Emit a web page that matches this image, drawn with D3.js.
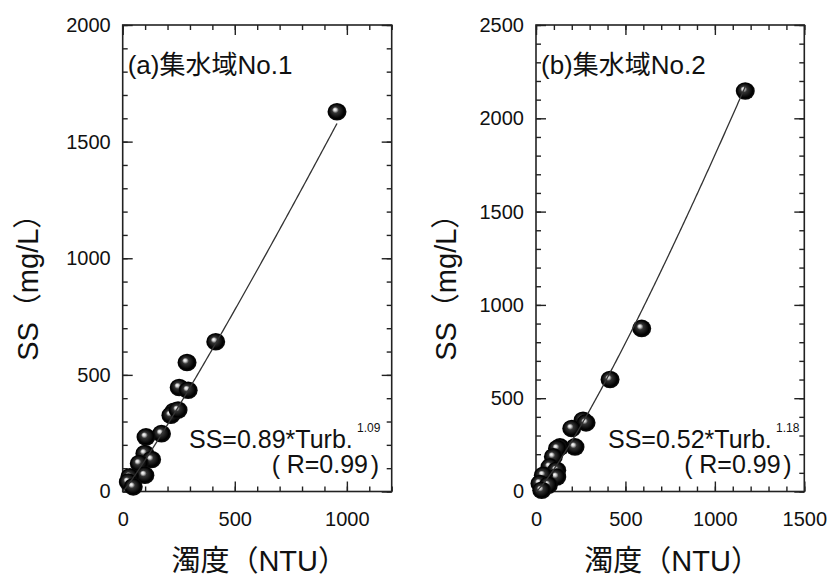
<!DOCTYPE html>
<html>
<head>
<meta charset="utf-8">
<script src="https://d3js.org/d3.v7.min.js"></script>
<style>
  body { margin: 0; background: #fff; }
  text { font-family: "Liberation Sans", Arial, "Noto Sans CJK JP", sans-serif; fill: #111; }
</style>
</head>
<body>
<svg id="chart" width="833" height="578"></svg>
<script>
// panel (a) catchment No.1
const turbA = [956, 415, 287, 252, 292, 229, 215, 247, 173, 104, 99, 129, 74, 99, 32, 25, 47];
const ssA   = [1628, 642, 553, 446, 434, 344, 327, 349, 248, 234, 163, 137, 120, 70, 63, 41, 20];
// panel (b) catchment No.2
const turbB = [1170, 591, 414, 263, 280, 200, 218, 134, 120, 97, 78, 116, 116, 41, 22, 69, 32];
const ssB   = [2146, 874, 600, 382, 368, 338, 239, 239, 230, 186, 132, 114, 78, 87, 43, 34, 7];

// fit: SS = a * Turb^b
const fitCoef = [0.89, 0.52];
const fitExp  = [1.09, 1.18];
const fitMax  = [956, 1170];

const titles = ["(a)集水域No.1", "(b)集水域No.2"];
const xMax = [1200, 1500];
const yMax = [2000, 2500];
const xMajor = [[0, 500, 1000], [0, 500, 1000, 1500]];
const yMajor = [[0, 500, 1000, 1500, 2000], [0, 500, 1000, 1500, 2000, 2500]];
const eqText = ["SS=0.89*Turb.", "SS=0.52*Turb."];
const eqSup = ["1.09", "1.18"];
const rText = "R=0.99";

const svg = d3.select("#chart");

// sphere look
const grad = svg.append("defs").append("radialGradient")
    .attr("id", "ball").attr("cx", "50%").attr("cy", "50%").attr("r", "55%")
    .attr("fx", "38%").attr("fy", "36%");
grad.append("stop").attr("offset", "0%").attr("stop-color", "#ffffff");
grad.append("stop").attr("offset", "14%").attr("stop-color", "#d0d0d0");
grad.append("stop").attr("offset", "32%").attr("stop-color", "#333");
grad.append("stop").attr("offset", "75%").attr("stop-color", "#000");
grad.append("stop").attr("offset", "100%").attr("stop-color", "#151515");

const panels = [
    {left: 122.7, right: 391.7, xs: turbA, ys: ssA, eqStart: 189, yTitleX: 38},
    {left: 536, right: 804.3, xs: turbB, ys: ssB, eqStart: 608, yTitleX: 456}
];
const plotTop = 25, plotBottom = 491.5;

panels.forEach((p, i) => {
    const x = d3.scaleLinear([0, xMax[i]], [p.left, p.right]);
    const y = d3.scaleLinear([0, yMax[i]], [plotBottom, plotTop]);
    const g = svg.append("g");
    const xMinor = d3.range(0, xMax[i] + 1, 100);
    const yMinor = d3.range(0, yMax[i] + 1, 100);

    function ticks(axis, scale, vals, size, pos, labels) {
        const a = axis(scale).tickValues(vals).tickSize(-size)
            .tickPadding(labels ? (axis === d3.axisBottom ? 20 : 12) : 0)
            .tickFormat(labels ? d3.format("d") : "");
        const ax = g.append("g").attr("transform", pos).call(a);
        ax.select(".domain").remove();
        ax.selectAll("line").attr("stroke", "#222").attr("stroke-width", 1.4);
        ax.selectAll("text").style("font-size", "20px").attr("fill", "#111");
    }
    ticks(d3.axisBottom, x, xMinor, 5, `translate(0,${plotBottom})`, false);
    ticks(d3.axisBottom, x, xMajor[i], 10, `translate(0,${plotBottom})`, true);
    ticks(d3.axisTop, x, xMinor, 5, `translate(0,${plotTop})`, false);
    ticks(d3.axisTop, x, xMajor[i], 10, `translate(0,${plotTop})`, false);
    ticks(d3.axisLeft, y, yMinor, 5, `translate(${p.left},0)`, false);
    ticks(d3.axisLeft, y, yMajor[i], 10, `translate(${p.left},0)`, true);
    ticks(d3.axisRight, y, yMinor, 5, `translate(${p.right},0)`, false);
    ticks(d3.axisRight, y, yMajor[i], 10, `translate(${p.right},0)`, false);

    g.append("rect")
        .attr("x", p.left).attr("y", plotTop)
        .attr("width", p.right - p.left).attr("height", plotBottom - plotTop)
        .attr("fill", "none").attr("stroke", "#222").attr("stroke-width", 1.6);

    // points
    g.append("g").selectAll("ellipse")
        .data(p.xs.map((v, k) => [v, p.ys[k]]))
        .join("ellipse")
        .attr("cx", d => x(d[0]))
        .attr("cy", d => y(d[1]))
        .attr("rx", 9.5).attr("ry", 8.8)
        .attr("fill", "url(#ball)");

    // fitted curve
    const fx = d3.range(0, fitMax[i], 5).concat([fitMax[i]]);
    g.append("path")
        .datum(fx)
        .attr("fill", "none").attr("stroke", "#333").attr("stroke-width", 1.3)
        .attr("d", d3.line().x(d => x(d)).y(d => y(fitCoef[i] * Math.pow(d, fitExp[i]))));

    // panel title
    g.append("text").attr("x", p.left + 5).attr("y", 74)
        .style("font-size", "26px").text(titles[i]);

    // equation and R, kept in one text block
    const eq = g.append("text").style("font-size", "25px");
    eq.append("tspan").attr("x", p.eqStart).attr("y", 448).text(eqText[i]);
    eq.append("tspan").attr("x", p.eqStart + 168).attr("y", 432)
        .style("font-size", "12px").text(eqSup[i]);
    eq.append("tspan").attr("x", p.right - 120).attr("y", 474).text("(");
    eq.append("tspan").attr("x", p.right - 105).attr("y", 473).text(rText);
    eq.append("tspan").attr("x", p.right - 21).attr("y", 474).text(")");

    // axis titles
    g.append("text")
        .attr("x", (p.left + p.right) / 2 + 2).attr("y", 571)
        .attr("text-anchor", "middle").style("font-size", "29px")
        .text("濁度（NTU）");
    g.append("text")
        .attr("transform", `translate(${p.yTitleX},${(plotTop + plotBottom) / 2 + 22}) rotate(-90)`)
        .attr("text-anchor", "middle").style("font-size", "29px")
        .text("SS（mg/L）");
});
</script>
</body>
</html>
